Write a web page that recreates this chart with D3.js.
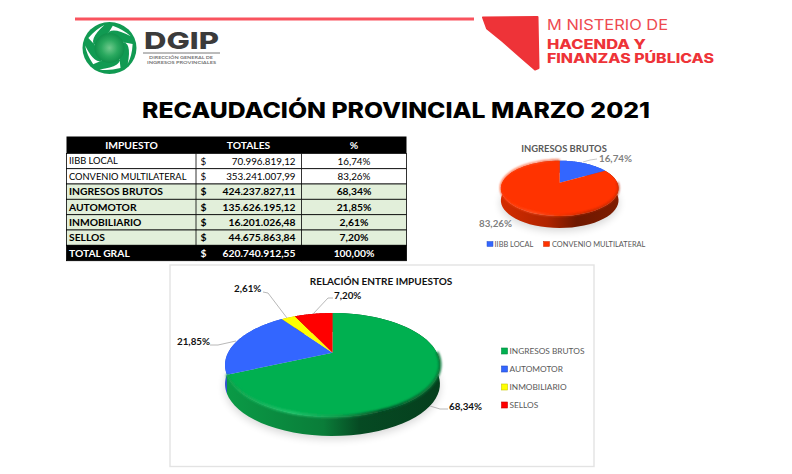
<!DOCTYPE html>
<html><head><meta charset="utf-8">
<style>html,body{margin:0;padding:0;background:#fff}svg{display:block}text{font-family:Lato,"Noto Sans",sans-serif}</style>
<script src="https://cdn.jsdelivr.net/npm/d3@7/dist/d3.min.js"></script>
</head><body><div id="c"></div>
<script>
// ---- data ----
const pageTitle = "RECAUDACIÓN PROVINCIAL MARZO 2021";
const tableHeader = ["IMPUESTO", "TOTALES", "%"];
const taxNames = ["IIBB LOCAL", "CONVENIO MULTILATERAL", "INGRESOS BRUTOS", "AUTOMOTOR", "INMOBILIARIO", "SELLOS", "TOTAL GRAL"];
const taxTotals = ["70.996.819,12", "353.241.007,99", "424.237.827,11", "135.626.195,12", "16.201.026,48", "44.675.863,84", "620.740.912,55"];
const taxPercents = ["16,74%", "83,26%", "68,34%", "21,85%", "2,61%", "7,20%", "100,00%"];
const mainCategories = ["INGRESOS BRUTOS", "AUTOMOTOR", "INMOBILIARIO", "SELLOS"];
const mainValues = [68.34, 21.85, 2.61, 7.20];
const subCategories = ["IIBB LOCAL", "CONVENIO MULTILATERAL"];
const subValues = [16.74, 83.26];
const fmt = v => v.toFixed(2).replace(".", ",") + "%";

const svg = d3.select("#c").append("svg").attr("width", 792).attr("height", 474);
const defs = svg.append("defs");
function hGrad(id, x1, x2, stops) {
  const g = defs.append("linearGradient").attr("id", id).attr("gradientUnits", "userSpaceOnUse")
    .attr("x1", x1).attr("x2", x2).attr("y1", 0).attr("y2", 0);
  stops.forEach(s => g.append("stop").attr("offset", s[0]).attr("stop-color", s[1]));
}
defs.append("filter").attr("id", "b1").attr("x", "-20%").attr("y", "-20%").attr("width", "140%").attr("height", "140%")
  .append("feGaussianBlur").attr("stdDeviation", 0.8);
defs.append("filter").attr("id", "b5").attr("x", "-20%").attr("y", "-40%").attr("width", "140%").attr("height", "180%")
  .append("feGaussianBlur").attr("stdDeviation", 4);

// ---- header band ----
svg.append("rect").attr("x", 75).attr("y", 17.5).attr("width", 399).attr("height", 3).attr("fill", "#f9535e");

// DGIP logo
const logo = svg.append("g").attr("transform", "translate(109.5,48)");
const lg = defs.append("radialGradient").attr("id", "lg");
lg.append("stop").attr("offset", 0).attr("stop-color", "#6fc98c");
lg.append("stop").attr("offset", 0.55).attr("stop-color", "#2aa95f");
lg.append("stop").attr("offset", 1).attr("stop-color", "#0f8f4a");
logo.append("ellipse").attr("rx", 27).attr("ry", 26).attr("fill", "#119a52");
const pol = (r, a) => [r * Math.cos(a * Math.PI / 180), 0.96 * r * Math.sin(a * Math.PI / 180)];
d3.range(5).forEach(i => {
  const a0 = i * 72 - 30;
  const p = [pol(13, a0), pol(24.5, a0 + 72), pol(24, a0 + 12), pol(23.5, a0 + 20), pol(24, a0 + 50)];
  logo.append("path").attr("fill", "#fff").attr("d", `M${p[0]}Q${p[2]} ${p[1]}Q${p[4]} ${p[3]}Z`);
});
logo.append("circle").attr("r", 15).attr("fill", "url(#lg)");
svg.append("text").attr("x", 144).attr("y", 49).attr("textLength", 75).attr("lengthAdjust", "spacingAndGlyphs")
  .attr("font-size", 23.5).attr("font-weight", 800).attr("fill", "#3b3b3b").style("font-family", "Inter").text("DGIP");
svg.append("line").attr("x1", 143).attr("x2", 220).attr("y1", 53).attr("y2", 53).attr("stroke", "#555").attr("stroke-width", 0.8);
[["DIRECCIÓN GENERAL DE", 59.2, 149, 64], ["INGRESOS PROVINCIALES", 64, 147, 69]].forEach(d =>
  svg.append("text").attr("x", d[2]).attr("y", d[1]).attr("textLength", d[3]).attr("lengthAdjust", "spacingAndGlyphs")
    .attr("font-size", 3.8).attr("font-weight", 700).attr("fill", "#777").text(d[0]));

// Ministerio logo
svg.append("path").attr("fill", "#ee3338").attr("stroke", "#ee3338").attr("stroke-width", 2).attr("stroke-linejoin", "round")
  .attr("d", d3.line()([[483, 17.5], [537.5, 17], [538.5, 68], [535, 69.5], [520, 56.5], [503, 41.5], [487, 28.5]]) + "Z");
const minT = (t, y, x2, fs, w, col) => svg.append("text").attr("x", 547).attr("y", y).attr("font-size", fs).attr("font-weight", w)
  .attr("fill", col).attr("textLength", x2 - 547).attr("lengthAdjust", "spacingAndGlyphs").style("font-family", "Inter").text(t);
minT("M NISTERIO DE", 29.5, 668, 14.5, 400, "#ee4a50");
minT("HACENDA Y", 49, 646, 12.5, 800, "#ee3338");
minT("FINANZAS PÚBLICAS", 62.5, 714, 12.5, 800, "#ee3338");

// Title
svg.append("text").attr("x", 142).attr("y", 118).attr("textLength", 508).attr("lengthAdjust", "spacingAndGlyphs")
  .attr("font-size", 22).attr("font-weight", 800).attr("fill", "#000").style("font-family", "Inter").text(pageTitle);

// ---- table ----
const colX = [66.5, 196, 301.5, 406.5];
const rowY = [136.5, 153.5, 168.7, 184, 199.3, 214.7, 230, 245.3, 260.7];
const t = svg.append("g");
t.append("rect").attr("x", colX[0]).attr("y", rowY[0]).attr("width", colX[3] - colX[0]).attr("height", rowY[1] - rowY[0]).attr("fill", "#000");
tableHeader.forEach((h, i) => t.append("text").attr("x", [131.5, 248.5, 354][i]).attr("y", 145).attr("dy", ".35em")
  .attr("text-anchor", "middle").attr("font-size", 10.3).attr("font-weight", 700).attr("fill", "#fff").text(h));
taxNames.forEach((name, i) => {
  const y0 = rowY[i + 1], y1 = rowY[i + 2], ym = (y0 + y1) / 2, last = i === taxNames.length - 1, bold = i >= 2;
  t.append("rect").attr("x", colX[0]).attr("y", y0).attr("width", colX[3] - colX[0]).attr("height", y1 - y0)
    .attr("fill", last ? "#000" : bold ? "#e2efda" : "#fff").attr("stroke", "#000").attr("stroke-width", 0.8);
  [1, 2].forEach(c => t.append("line").attr("x1", colX[c]).attr("x2", colX[c]).attr("y1", y0).attr("y2", y1).attr("stroke", "#000").attr("stroke-width", 0.8));
  const col = last ? "#fff" : "#000", fs = bold ? 10.3 : 9.8, w = bold ? 700 : 400;
  const cell = (x, s, anchor, size) => t.append("text").attr("x", x).attr("y", ym).attr("dy", ".35em").attr("text-anchor", anchor)
    .attr("font-size", size || fs).attr("font-weight", w).attr("fill", col).text(s);
  cell(69, name, "start", bold ? 10.3 : 9.3);
  cell(200.5, "$", "start");
  cell(295.5, taxTotals[i], "end");
  cell(354, taxPercents[i], "middle");
});

// ---- 3D pie helper ----
function pie3d(o) {
  const g = svg.append("g");
  const rad = d3.pie().sort(null).startAngle(0).endAngle(2 * Math.PI)(o.values);
  const proj = a => {
    const u = Math.sin(a), s = -Math.cos(a), k = 1 - o.p * s;
    return [o.cx + o.B * u / k, o.cy + o.A * s / k];
  };
  const rim = (a0, a1) => d3.range(0, 61).map(i => proj(a0 + (a1 - a0) * i / 60));
  const line = d3.line();
  // ground shadow
  const shadow = rim(0, 2 * Math.PI).map(p => [p[0], p[1] + o.depth + 3]);
  g.append("path").attr("d", line(shadow) + "Z").attr("fill", "#000").attr("opacity", 0.16).attr("filter", "url(#b5)");
  // sides
  rad.forEach((d, i) => {
    const r = rim(d.startAngle, d.endAngle);
    const low = r.map(p => [p[0], p[1] + o.depth]).reverse();
    g.append("path").attr("d", line(r.concat(low)) + "Z").attr("fill", `url(#${o.id}side${i})`);
  });
  // top faces
  rad.forEach((d, i) => {
    g.append("path").attr("d", line(rim(d.startAngle, d.endAngle).concat([[o.cx, o.cy]])) + "Z").attr("fill", o.colors[i]);
  });
  // bevel on the front rim of the biggest slice
  const big = rad[o.bevelIndex];
  const b0 = Math.max(big.startAngle, Math.PI * 0.5), b1 = big.endAngle;
  g.append("path").attr("d", line(rim(b0, b1).map(p => [p[0], p[1] - 0.5]))).attr("fill", "none")
    .attr("stroke", `url(#${o.id}bev)`).attr("stroke-width", o.bevelW).attr("filter", "url(#b1)");
}
function leader(g, pts, col) {
  g.append("path").attr("d", d3.line()(pts)).attr("fill", "none").attr("stroke", col).attr("stroke-width", 0.8);
}

// ---- main chart ----
svg.append("rect").attr("x", 170).attr("y", 265).attr("width", 424).attr("height", 201.5).attr("fill", "#fff").attr("stroke", "#e3e3e3").attr("stroke-width", 1.4);
const mainColors = ["#00b050", "#3366ff", "#ffff00", "#ff0000"];
hGrad("mside0", 228, 440, [[0, "#0a9a46"], [0.45, "#0a7d39"], [0.62, "#064a23"], [1, "#053f1d"]]);
hGrad("mside1", 225, 240, [[0, "#2a50cc"], [1, "#2a50cc"]]);
hGrad("mside2", 0, 1, [[0, "#b0b000"], [1, "#b0b000"]]);
hGrad("mside3", 0, 1, [[0, "#aa0000"], [1, "#aa0000"]]);
hGrad("mbev", 228, 440, [[0, "#0fa24c"], [0.3, "#22c46c"], [0.5, "#14a050"], [0.72, "#064a24"], [1, "#087a3a"]]);
pie3d({ id: "m", values: mainValues, colors: mainColors, cx: 332.5, cy: 352.7, A: 49.1, B: 104.4, p: 0.2366, depth: 19, bevelIndex: 0, bevelW: 3 });
svg.append("text").attr("x", 381).attr("y", 281).attr("dy", ".35em").attr("text-anchor", "middle").attr("font-size", 10).attr("font-weight", 700).attr("fill", "#111").text("RELACIÓN ENTRE IMPUESTOS");
const mainLabels = [
  { x: 449, y: 407, pts: [[448, 409], [440, 409], [430, 406]] },
  { x: 177, y: 342, pts: [[210, 345], [218, 345], [236, 341]] },
  { x: 234, y: 288.5, pts: [[263, 292], [268, 293], [287, 318]] },
  { x: 334, y: 296, pts: [[333, 298], [328, 298], [313, 314]] }
];
mainLabels.forEach((l, i) => {
  leader(svg, l.pts, "#a6a6a6");
  svg.append("text").attr("x", l.x).attr("y", l.y).attr("dy", ".35em").attr("font-size", 9.8).attr("font-weight", 700).attr("fill", "#111").text(fmt(mainValues[i]));
});
const mainLegendY = d3.scalePoint().domain(mainCategories).range([351, 405]);
mainCategories.forEach((c, i) => {
  svg.append("rect").attr("x", 501.5).attr("y", mainLegendY(c) - 3).attr("width", 6).attr("height", 6).attr("fill", mainColors[i]).attr("stroke", d3.color(mainColors[i]).darker(0.7)).attr("stroke-width", 0.6);
  svg.append("text").attr("x", 509.5).attr("y", mainLegendY(c)).attr("dy", ".35em").attr("font-size", 8.3).attr("fill", "#595959").text(c);
});

// ---- secondary chart ----
const subColors = ["#3366ff", "#ff3300"];
hGrad("sside0", 0, 1, [[0, "#2a50cc"], [1, "#2a50cc"]]);
hGrad("sside1", 500, 618, [[0, "#d42c00"], [0.4, "#b02400"], [0.65, "#6e1800"], [1, "#7e1c00"]]);
hGrad("sbev", 500, 618, [[0, "#ff3a08"], [0.3, "#ff5a30"], [0.55, "#e03000"], [0.75, "#a82400"], [1, "#c02a00"]]);
pie3d({ id: "s", values: subValues, colors: subColors, cx: 559.7, cy: 182.7, A: 26.5, B: 57.6, p: 0.204, depth: 12, bevelIndex: 1, bevelW: 1.6 });
svg.append("text").attr("x", 564).attr("y", 148.7).attr("dy", ".35em").attr("text-anchor", "middle").attr("font-size", 9.4).attr("font-weight", 700).attr("fill", "#595959").text("INGRESOS BRUTOS");
leader(svg, [[597, 159], [590, 160], [583, 162]], "#bbb");
svg.append("text").attr("x", 599).attr("y", 159).attr("dy", ".35em").attr("font-size", 9.8).attr("font-weight", 700).attr("fill", "#7f7f7f").text(fmt(subValues[0]));
svg.append("text").attr("x", 479).attr("y", 224).attr("dy", ".35em").attr("font-size", 9.8).attr("font-weight", 700).attr("fill", "#7f7f7f").text(fmt(subValues[1]));
[[487, 494.5], [543.5, 552]].forEach((p, i) => {
  svg.append("rect").attr("x", p[0]).attr("y", 241.5).attr("width", 6).attr("height", 5).attr("fill", subColors[i]).attr("stroke", d3.color(subColors[i]).darker(0.7)).attr("stroke-width", 0.5);
  svg.append("text").attr("x", p[1]).attr("y", 244.3).attr("dy", ".35em").attr("font-size", 7.4).attr("fill", "#595959").text(subCategories[i]);
});
</script></body></html>
